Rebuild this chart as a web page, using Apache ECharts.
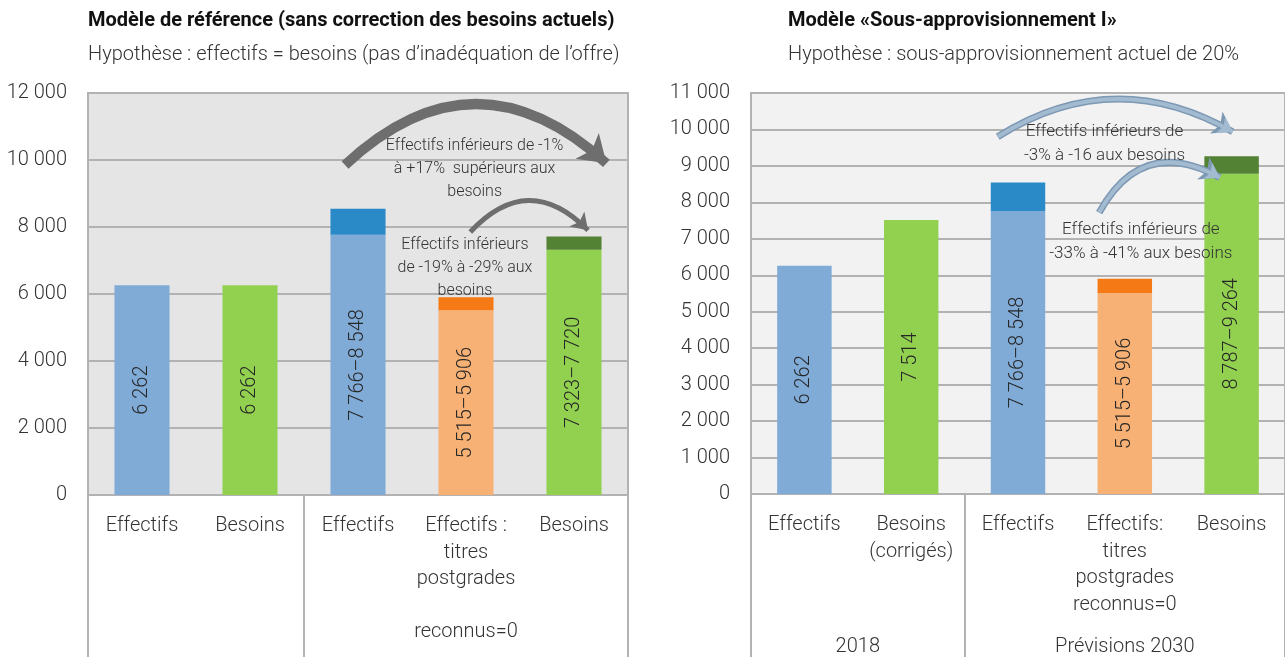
<!DOCTYPE html>
<html>
<head>
<meta charset="utf-8">
<script src="https://cdn.jsdelivr.net/npm/echarts@6/dist/echarts.min.js"></script>
<style>
  html, body { margin: 0; padding: 0; background: #fff; }
  #chart { width: 1285px; height: 657px; }
</style>
</head>
<body>
<div id="chart"></div>
<script>
// values
const categoriesLeft = ['Effectifs', 'Besoins', 'Effectifs', 'Effectifs :\ntitres\npostgrades\n\nreconnus=0', 'Besoins']
const categoriesRight = ['Effectifs', 'Besoins\n(corrigés)', 'Effectifs', 'Effectifs:\ntitres\npostgrades\nreconnus=0', 'Besoins']
const lowLeft = [6262, 6262, 7766, 5515, 7323]
const highLeft = [6262, 6262, 8548, 5906, 7720]
const lowRight = [6262, 7514, 7766, 5515, 8787]
const highRight = [6262, 7514, 8548, 5906, 9264]
const groupNames = ['2018', 'Prévisions 2030']
const groupSizes = [2, 3]

const lightColors = ['#80abd7', '#92d050', '#80abd7', '#f8b174', '#92d050']
const darkColors = ['#2a8ac8', '#548235', '#2a8ac8', '#f57a16', '#548235']

const FONT = 'Roboto, "DejaVu Sans", sans-serif'
const TEXT = '#333333'
const GRID_LINE = '#b2b2b2'

const fmt = n => String(n).replace(/\B(?=(\d{3})+(?!\d))/g, ' ')

// group boundaries and centres, in category units
const groupEdges = [0]
groupSizes.forEach(s => groupEdges.push(groupEdges[groupEdges.length - 1] + s))
const groupCentres = groupSizes.map((s, i) => groupEdges[i] + s / 2)

function barSeries(low, high, xIdx, yIdx) {
  const base = {
    type: 'bar',
    xAxisIndex: xIdx,
    yAxisIndex: yIdx,
    stack: 'g' + xIdx,
    barWidth: '51%',
    silent: true,
    data: low.map((v, i) => ({ value: v, itemStyle: { color: lightColors[i] } })),
    label: {
      show: true,
      position: 'inside',
      rotate: 90,
      fontFamily: FONT,
      fontWeight: 300,
      fontSize: 20,
      color: '#262626',
      formatter: p => {
        const i = p.dataIndex
        return low[i] === high[i] ? fmt(low[i]) : fmt(low[i]) + '–' + fmt(high[i])
      }
    }
  }
  const top = {
    type: 'bar',
    xAxisIndex: xIdx,
    yAxisIndex: yIdx,
    stack: 'g' + xIdx,
    barWidth: '51%',
    silent: true,
    data: high.map((v, i) => v > low[i] ? ({ value: v - low[i], itemStyle: { color: darkColors[i] } }) : null)
  }
  return [base, top]
}

// curved arrow drawn with a lines series on the continuous helper axis
function arrow(xIdx, yIdx, from, to, curve, width, color, size, z) {
  return {
    type: 'lines',
    coordinateSystem: 'cartesian2d',
    xAxisIndex: xIdx,
    yAxisIndex: yIdx,
    silent: true,
    z: z || 5,
    symbol: ['none', 'arrow'],
    symbolSize: size,
    lineStyle: { curveness: curve, width: width, color: color, opacity: 1 },
    data: [{ coords: [from, to] }]
  }
}

function note(coord, text, fontSize, lh) {
  return {
    coord: coord,
    label: { show: true, position: 'inside', formatter: text, fontSize: fontSize, lineHeight: lh, color: TEXT, fontFamily: FONT, fontWeight: 300 }
  }
}

function noteSeries(xIdx, yIdx, notes) {
  return {
    type: 'line',
    xAxisIndex: xIdx,
    yAxisIndex: yIdx,
    data: [],
    silent: true,
    z: 7,
    markPoint: {
      silent: true,
      symbol: 'circle',
      symbolSize: 1,
      itemStyle: { color: 'transparent' },
      data: notes
    }
  }
}

function catAxis(gridIndex, cats) {
  return {
    type: 'category',
    gridIndex: gridIndex,
    position: 'bottom',
    data: cats,
    axisLine: { show: false },
    axisTick: { show: false },
    axisLabel: {
      interval: 0,
      margin: 18,
      fontFamily: FONT,
      fontWeight: 300,
      fontSize: 20,
      lineHeight: 26.5,
      color: TEXT
    }
  }
}

function groupAxis(gridIndex, showLabels) {
  return {
    type: 'value',
    gridIndex: gridIndex,
    position: 'bottom',
    min: 0,
    max: categoriesLeft.length,
    axisLine: { show: false },
    splitLine: { show: false },
    axisTick: {
      show: true,
      inside: false,
      length: 170,
      customValues: groupEdges,
      lineStyle: { color: GRID_LINE, width: 2 }
    },
    axisLabel: {
      show: showLabels,
      customValues: groupCentres,
      margin: 143,
      fontFamily: FONT,
      fontWeight: 300,
      fontSize: 20,
      color: TEXT,
      formatter: v => {
        const i = groupCentres.indexOf(v)
        return i >= 0 ? groupNames[i] : ''
      }
    }
  }
}

function valAxis(gridIndex, max, interval) {
  return {
    type: 'value',
    gridIndex: gridIndex,
    min: 0,
    max: max,
    interval: interval,
    axisLine: { show: false },
    axisTick: { show: false },
    splitLine: { lineStyle: { color: GRID_LINE, width: 2 } },
    axisLabel: {
      margin: 21,
      fontFamily: FONT,
      fontWeight: 300,
      fontSize: 20,
      color: TEXT,
      formatter: v => fmt(v)
    }
  }
}

const chart = echarts.init(document.getElementById('chart'))

const titleStyle = { fontFamily: FONT, fontSize: 20, fontWeight: 'bold', color: '#111', lineHeight: 24 }
const subStyle = { fontFamily: FONT, fontSize: 20, fontWeight: 300, color: TEXT, lineHeight: 24 }

const option = {
  animation: false,
  backgroundColor: '#ffffff',
  title: [
    {
      left: 88, top: 9, itemGap: 10, padding: 0,
      text: 'Modèle de référence (sans correction des besoins actuels)',
      subtext: 'Hypothèse : effectifs = besoins (pas d’inadéquation de l’offre)',
      textStyle: titleStyle,
      subtextStyle: subStyle
    },
    {
      left: 788, top: 9, itemGap: 10, padding: 0,
      text: 'Modèle «Sous-approvisionnement I»',
      subtext: 'Hypothèse : sous-approvisionnement actuel de 20%',
      textStyle: titleStyle,
      subtextStyle: subStyle
    }
  ],
  grid: [
    { left: 88, width: 540, top: 93, bottom: 162, show: true, backgroundColor: '#e5e5e5', borderColor: GRID_LINE, borderWidth: 2 },
    { left: 751, width: 540, top: 93, bottom: 162, show: true, backgroundColor: '#f2f2f2', borderColor: GRID_LINE, borderWidth: 2 }
  ],
  xAxis: [
    catAxis(0, categoriesLeft),
    groupAxis(0, false),
    catAxis(1, categoriesRight),
    groupAxis(1, true)
  ],
  yAxis: [
    valAxis(0, 12000, 2000),
    valAxis(1, 11000, 1000)
  ],
  series: [
    ...barSeries(lowLeft, highLeft, 0, 0),
    ...barSeries(lowRight, highRight, 2, 1),
    arrow(1, 0, [2.38, 9850], [4.8, 9900], 0.46, 10, '#6e6e6e', [24, 26]),
    arrow(1, 0, [3.54, 7850], [4.63, 7900], 0.52, 5, '#6e6e6e', [14, 16]),
    // blue arrows: darker outline under a lighter body
    arrow(3, 1, [2.31, 9800], [4.51, 9935], 0.3, 7, '#7d98b3', [18, 19], 5),
    arrow(3, 1, [2.31, 9800], [4.51, 9935], 0.3, 4, '#a3bbd0', [13, 14], 6),
    arrow(3, 1, [3.26, 7720], [4.39, 8680], 0.5, 7, '#7d98b3', [18, 19], 5),
    arrow(3, 1, [3.26, 7720], [4.39, 8680], 0.5, 4, '#a3bbd0', [13, 14], 6),
    noteSeries(1, 0, [
      note([3.58, 9720], 'Effectifs inférieurs de -1%\nà +17%  supérieurs aux\nbesoins', 16, 23),
      note([3.49, 6790], 'Effectifs inférieurs\nde -19% à -29% aux\nbesoins', 16, 23)
    ]),
    noteSeries(3, 1, [
      note([3.31, 9610], 'Effectifs inférieurs de\n-3% à -16 aux besoins', 17, 24),
      note([3.65, 6920], 'Effectifs inférieurs de\n-33% à -41% aux besoins', 17, 24)
    ])
  ]
}

chart.setOption(option)
</script>
</body>
</html>
